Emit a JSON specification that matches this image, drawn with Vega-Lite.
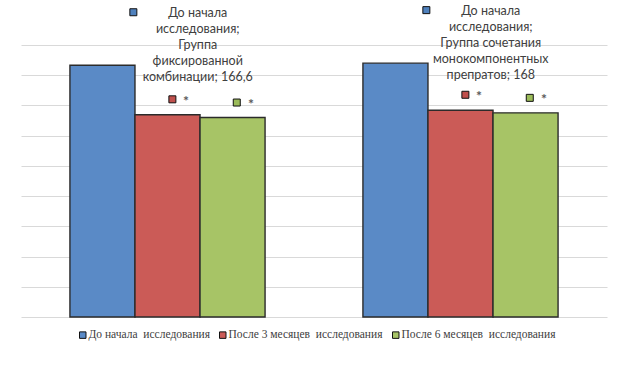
{
  "$schema": "https://vega.github.io/schema/vega-lite/v6.json",
  "width": 586,
  "height": 272,
  "autosize": {"type": "none"},
  "padding": {"left": 21, "top": 45, "right": 21, "bottom": 63},
  "background": "white",
  "config": {"view": {"stroke": null}},
  "data": {
    "values": [
      {"group": "Группа фиксированной комбинации", "series": "До начала\u00a0 исследования", "value": 166.6, "label": "До начала\nисследования;\nГруппа\nфиксированной\nкомбинации; 166,6"},
      {"group": "Группа фиксированной комбинации", "series": "После 3 месяцев\u00a0 исследования", "value": 133.8, "label": ""},
      {"group": "Группа фиксированной комбинации", "series": "После 6 месяцев\u00a0 исследования", "value": 132.0, "label": ""},
      {"group": "Группа сочетания монокомпонентных препаратов", "series": "До начала\u00a0 исследования", "value": 168, "label": "До начала\nисследования;\nГруппа сочетания\nмонокомпонентных\nпрепратов; 168"},
      {"group": "Группа сочетания монокомпонентных препаратов", "series": "После 3 месяцев\u00a0 исследования", "value": 136.8, "label": ""},
      {"group": "Группа сочетания монокомпонентных препаратов", "series": "После 6 месяцев\u00a0 исследования", "value": 135.1, "label": ""}
    ]
  },
  "encoding": {
    "x": {"field": "group", "type": "nominal", "sort": null, "axis": null,
          "scale": {"paddingInner": 0.334, "paddingOuter": 0.167}},
    "y": {"field": "value", "type": "quantitative",
          "scale": {"domain": [0, 180], "nice": false},
          "axis": {"values": [0, 20, 40, 60, 80, 100, 120, 140, 160, 180], "labels": false, "ticks": false, "domain": false, "title": null, "grid": true, "gridColor": "#d9d9d9", "gridWidth": 1}}
  },
  "layer": [
    {
      "mark": {"type": "bar", "stroke": "#2b2b2b", "strokeWidth": 1.4},
      "encoding": {
        "xOffset": {"field": "series", "type": "nominal", "sort": null},
        "color": {"field": "series", "type": "nominal", "sort": null,
          "scale": {"range": ["#5A8AC6", "#CB5B57", "#A7C466"]},
          "legend": {"orient": "none", "legendX": 56, "legendY": 284, "direction": "horizontal", "title": null,
            "symbolType": "square", "symbolSize": 42, "symbolStrokeColor": "#111111", "symbolStrokeWidth": 1,
            "labelFont": "Liberation Serif", "labelFontSize": 11.5, "labelColor": "#404040", "labelOffset": 0, "labelLimit": 400,
            "columnPadding": 7, "padding": 0}}
      }
    },
    {
      "transform": [{"filter": "datum.label != ''"}],
      "mark": {"type": "text", "lineBreak": "\n", "baseline": "top", "align": "center", "dy": -58, "font": "Lato", "fontSize": 12.5, "lineHeight": 16, "fill": "#404040"},
      "encoding": {
        "x": {"field": "group", "type": "nominal", "sort": null, "bandPosition": 0.655},
        "text": {"field": "label"}
      }
    },
    {
      "transform": [{"filter": "datum.label != ''"}],
      "mark": {"type": "point", "shape": "square", "filled": true, "size": 49, "color": "#4F81BD", "stroke": "#111111", "strokeWidth": 1, "opacity": 1, "yOffset": -53},
      "encoding": {
        "x": {"field": "group", "type": "nominal", "sort": null, "bandPosition": 0.325}
      }
    },
    {
      "transform": [{"filter": "indexof(datum.series, 'После 3') == 0"}],
      "mark": {"type": "point", "shape": "square", "filled": true, "size": 49, "color": "#C0504D", "stroke": "#111111", "strokeWidth": 1, "opacity": 1, "yOffset": -15.5},
      "encoding": {
        "x": {"field": "group", "type": "nominal", "sort": null, "bandPosition": 0.525}
      }
    },
    {
      "transform": [{"filter": "indexof(datum.series, 'После 6') == 0"}],
      "mark": {"type": "point", "shape": "square", "filled": true, "size": 49, "color": "#9BBB59", "stroke": "#111111", "strokeWidth": 1, "opacity": 1, "yOffset": -15},
      "encoding": {
        "x": {"field": "group", "type": "nominal", "sort": null, "bandPosition": 0.855}
      }
    },
    {
      "transform": [{"filter": "datum.label == ''"}],
      "mark": {"type": "text", "text": "*", "baseline": "middle", "align": "center", "dx": 18.5, "dy": -13, "font": "Lato", "fontSize": 14, "fontWeight": "bold", "fill": "#595959"},
      "encoding": {
        "xOffset": {"field": "series", "type": "nominal", "sort": null}
      }
    }
  ]
}
